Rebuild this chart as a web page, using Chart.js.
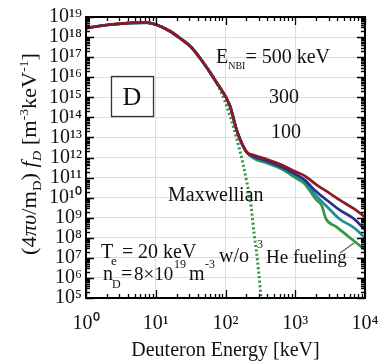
<!DOCTYPE html>
<html>
<head>
<meta charset="utf-8">
<script src="https://cdn.jsdelivr.net/npm/chart.js@4.4.1/dist/chart.umd.min.js"></script>
<style>
html, body { margin: 0; padding: 0; background: #fff; }
#wrap { width: 378px; height: 363px; position: relative; }
</style>
</head>
<body>
<div id="wrap"><canvas id="chart"></canvas></div>
<script>
// energies in keV, distribution in m^-3 keV^-1
var coreEnergy = [1, 2, 4, 7.4, 10, 15.8, 22, 32, 43, 74, 115, 148, 200];
var coreValue  = [2.8e18, 4.0e18, 5.0e18, 5.2e18, 4.2e18, 2.0e18, 9e17, 3.2e17, 9e16, 5.6e15, 4e14, 1.8e13, 1.9e12];

var tailEnergy = [257, 398, 646, 1000, 1349, 1995, 3162, 4266, 6918, 10000];
var tail500 = [1.3e12, 7.9e11, 4.2e11, 2.0e11, 1.26e11, 4.5e10, 1.6e10, 7.9e9, 2.8e9, 1.1e9];
var tail300 = [1.1e12, 6.6e11, 3.3e11, 1.5e11, 7.9e10, 2.0e10, 5.6e9, 2.5e9, 8.9e8, 2.5e8];
var tail100 = [1.0e12, 6.0e11, 3.0e11, 1.26e11, 6.3e10, 1.26e10, 2.5e9, 8.9e8, 3.2e8, 1.0e8];

var tailEnergyNoHe = [257, 398, 646, 1000, 1349, 1995, 2400, 2750, 3890, 5890, 10000];
var tailNoHe = [8.9e11, 5.2e11, 2.6e11, 1.0e11, 5.0e10, 7.9e9, 4.0e9, 8.9e8, 3.5e8, 1.1e8, 2.5e7];

var maxwEnergy = [1, 2, 4, 7.4, 10, 15.8, 22, 32, 43, 74, 107, 158, 200, 234, 257, 288, 324];
var maxwValue  = [2.8e18, 4.0e18, 5.0e18, 5.2e18, 4.2e18, 2.0e18, 9e17, 3.2e17, 9e16, 5.6e15, 2.8e14, 2.8e12, 7.1e10, 3.2e9, 1.6e8, 7.1e6, 1e5];

var xMin = 1, xMax = 1e4;
var yMin = 1e5, yMax = 1e19;

var serif = "'Liberation Serif', 'Times New Roman', serif";
var sup = { '0':'⁰','1':'¹','2':'²','3':'³','4':'⁴','5':'⁵','6':'⁶','7':'⁷','8':'⁸','9':'⁹','-':'⁻' };

function pts(xs, ys) {
    return xs.map(function(x, i) { return { x: x, y: ys[i] }; });
}

function isDecade(v) {
    var l = Math.log10(v);
    return Math.abs(l - Math.round(l)) < 1e-6;
}

function decadeTicks(scale) {
    var ticks = [];
    var e0 = Math.floor(Math.log10(scale.min));
    var e1 = Math.round(Math.log10(scale.max));
    for (var e = e0; e <= e1; e++) {
        for (var m = 1; m <= 9; m++) {
            var v = m * Math.pow(10, e);
            if (v >= scale.min * 0.999 && v <= scale.max * 1.001) ticks.push({ value: v, major: m === 1 });
        }
    }
    scale.ticks = ticks;
}

function powLabel(v) {
    if (!isDecade(v)) return '';
    var exp = String(Math.round(Math.log10(v)));
    return '10' + exp.split('').map(function(c) { return sup[c]; }).join('');
}

// pieces: [text, x, y, size, italic]
function drawPieces(ctx, pieces) {
    pieces.forEach(function(p) {
        ctx.font = (p[4] ? 'italic ' : '') + p[3] + 'px ' + serif;
        ctx.fillText(p[0], p[1], p[2]);
    });
}

// runs drawn one after another: [text, size, dy, italic]
function runWidth(ctx, runs) {
    var w = 0;
    runs.forEach(function(r) {
        ctx.font = (r[3] ? 'italic ' : '') + r[1] + 'px ' + serif;
        w += ctx.measureText(r[0]).width;
    });
    return w;
}
function drawRuns(ctx, runs, x, y) {
    runs.forEach(function(r) {
        ctx.font = (r[3] ? 'italic ' : '') + r[1] + 'px ' + serif;
        ctx.fillText(r[0], x, y + (r[2] || 0));
        x += ctx.measureText(r[0]).width;
    });
}

var framePlugin = {
    id: 'frame',
    afterDraw: function(chart) {
        var ctx = chart.ctx, a = chart.chartArea;
        var xs = chart.scales.x, ys = chart.scales.y;
        ctx.save();
        ctx.strokeStyle = '#000';
        ctx.lineWidth = 1.3;
        ctx.beginPath();
        xs.ticks.forEach(function(t) {
            var px = Math.round(xs.getPixelForValue(t.value)) + 0.5;
            var len = isDecade(t.value) ? 8 : 4;
            ctx.moveTo(px, a.bottom); ctx.lineTo(px, a.bottom - len);
            ctx.moveTo(px, a.top); ctx.lineTo(px, a.top + len);
        });
        ys.ticks.forEach(function(t) {
            var py = Math.round(ys.getPixelForValue(t.value)) + 0.5;
            var len = isDecade(t.value) ? 8 : 4;
            ctx.moveTo(a.left, py); ctx.lineTo(a.left + len, py);
            ctx.moveTo(a.right, py); ctx.lineTo(a.right - len, py);
        });
        ctx.stroke();
        ctx.lineWidth = 2;
        ctx.strokeRect(a.left, a.top, a.right - a.left, a.bottom - a.top);

        // panel label
        ctx.lineWidth = 1.3;
        ctx.strokeStyle = '#333';
        ctx.strokeRect(111.5, 76.5, 42, 40);
        ctx.fillStyle = '#111';
        ctx.textAlign = 'center';
        ctx.textBaseline = 'alphabetic';
        ctx.font = '26px ' + serif;
        ctx.fillText('D', 132, 105);

        ctx.font = '20px ' + serif;
        ctx.fillText('300', 284, 103);
        ctx.fillText('100', 286, 138);

        ctx.textAlign = 'left';
        drawRuns(ctx, [['E', 20, 0], ['NBI', 10, 6], ['= 500 keV', 20, 0]], 216, 63);
        drawPieces(ctx, [['Maxwellian', 168, 201, 20]]);

        drawPieces(ctx, [
            ['T', 101, 258, 20], ['e', 111, 265, 13], ['=', 122, 258, 20], ['20 keV', 138, 258, 20],
            ['n', 103, 280, 20], ['D', 112, 288, 12], ['=', 121, 280, 20], ['8×10', 134, 280, 19],
            ['19', 174, 268, 12], ['m', 189, 280, 20], ['-3', 205, 268, 12],
            ['w/o', 219, 262, 20], ['3', 257, 248, 12], ['He fueling', 266, 263, 19]
        ]);

        // leader line to the w/o 3He curve
        ctx.strokeStyle = '#5a5a7a';
        ctx.lineWidth = 1.2;
        ctx.beginPath();
        ctx.moveTo(340, 253);
        ctx.lineTo(354, 243);
        ctx.stroke();

        // y axis title
        var runs = [['(4', 20, 0], ['πυ', 20, 0, true], ['/m', 20, 0], ['D', 13, 5], [') ', 20, 0],
                    ['f', 20, 0, true], ['D', 13, 5, true], [' [m', 20, 0], ['-3', 12, -8], ['keV', 20, 0],
                    ['-1', 12, -8], [']', 20, 0]];
        var w = runWidth(ctx, runs);
        ctx.translate(36, 154);
        ctx.rotate(-Math.PI / 2);
        ctx.scale(1.12, 1);
        drawRuns(ctx, runs, -w / 2, 0);
        ctx.restore();
    }
};

function lineSet(label, data, color, width, dash) {
    return {
        label: label,
        data: data,
        showLine: true,
        borderColor: color,
        backgroundColor: color,
        borderWidth: width,
        borderDash: dash || [],
        pointRadius: 0,
        cubicInterpolationMode: 'monotone',
        fill: false
    };
}

var tickFont = { family: serif, size: 20 };

new Chart(document.getElementById('chart'), {
    type: 'scatter',
    data: {
        datasets: [
            lineSet('500 keV', pts(coreEnergy.concat(tailEnergy), coreValue.concat(tail500)), '#8c1a26', 2.7),
            lineSet('300 keV', pts(coreEnergy.concat(tailEnergy), coreValue.concat(tail300)), '#2b2f8c', 2.7),
            lineSet('100 keV', pts(coreEnergy.concat(tailEnergy), coreValue.concat(tail100)), '#1f8c9c', 2.7),
            lineSet('w/o 3He fueling', pts(coreEnergy.concat(tailEnergyNoHe), coreValue.concat(tailNoHe)), '#2f9a44', 2.7),
            lineSet('Maxwellian', pts(maxwEnergy, maxwValue), '#2f9240', 3, [2, 2.5])
        ]
    },
    options: {
        responsive: true,
        maintainAspectRatio: false,
        animation: false,
        devicePixelRatio: 1,
        layout: { padding: { left: 0, top: 17, right: 13, bottom: 0 } },
        plugins: {
            legend: { display: false },
            tooltip: { enabled: false }
        },
        scales: {
            x: {
                type: 'logarithmic',
                min: xMin,
                max: xMax,
                afterBuildTicks: decadeTicks,
                afterFit: function(s) { s.height = 65; s.paddingLeft = 0; s.paddingRight = 0; },
                border: { display: false },
                grid: {
                    drawTicks: false,
                    color: function(c) { return c.tick && isDecade(c.tick.value) ? '#dddddd' : 'rgba(0,0,0,0)'; }
                },
                ticks: {
                    autoSkip: false,
                    maxRotation: 0,
                    padding: 14,
                    color: '#111',
                    font: tickFont,
                    callback: function(v) { return powLabel(v); }
                },
                title: {
                    display: true,
                    text: 'Deuteron Energy [keV]',
                    color: '#111',
                    font: { family: serif, size: 20 },
                    padding: { top: 0, bottom: 0 }
                }
            },
            y: {
                type: 'logarithmic',
                min: yMin,
                max: yMax,
                afterBuildTicks: decadeTicks,
                afterFit: function(s) { s.width = 86; s.paddingTop = 0; s.paddingBottom = 0; },
                border: { display: false },
                grid: {
                    drawTicks: false,
                    color: function(c) { return c.tick && isDecade(c.tick.value) ? '#dddddd' : 'rgba(0,0,0,0)'; }
                },
                ticks: {
                    autoSkip: false,
                    padding: 4,
                    color: '#111',
                    font: tickFont,
                    callback: function(v) { return powLabel(v); }
                }
            }
        }
    },
    plugins: [framePlugin]
});
</script>
</body>
</html>
